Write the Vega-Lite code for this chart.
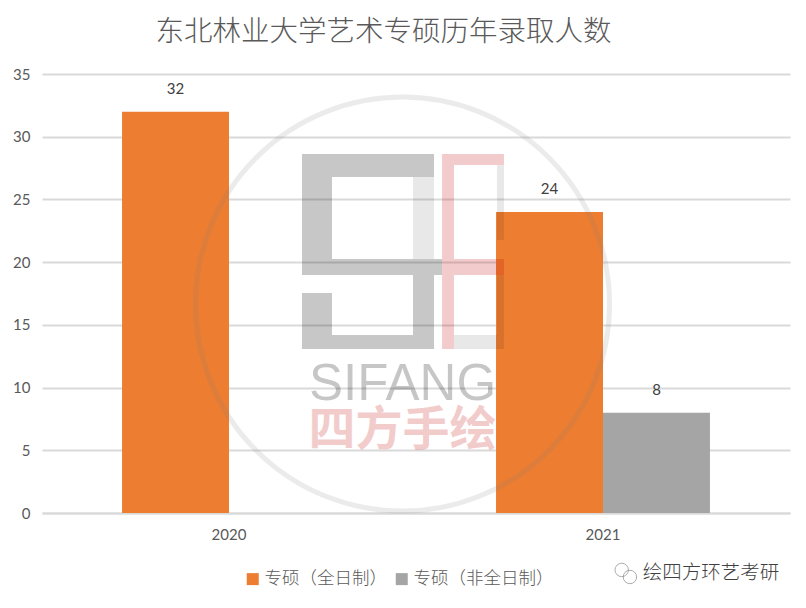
{
 "$schema":"https://vega.github.io/schema/vega-lite/v6.json",
 "width":748,"height":439,
 "autosize":{"type":"none"},
 "padding":{"left":42,"top":74,"right":16,"bottom":95},
 "background":"white",
 "title":{"text":"东北林业大学艺术专硕历年录取人数","anchor":"start","dx":143,"offset":21,"font":"Noto Sans CJK SC","fontSize":28.5,"fontWeight":300,"color":"#595959"},
 "config":{"view":{"stroke":null}},
 "datasets":{
  "bars":[
   {"year":"2020","type":"专硕（全日制）","count":32},
   {"year":"2021","type":"专硕（全日制）","count":24},
   {"year":"2021","type":"专硕（非全日制）","count":8}
  ],
  "logo":[
   {"part":"s","u":34.76,"u2":52.41,"v":28.62,"v2":26.79},
   {"part":"s","u":34.76,"u2":38.77,"v":26.79,"v2":20.25},
   {"part":"s","u":34.76,"u2":53.48,"v":20.25,"v2":18.97},
   {"part":"s","u":49.60,"u2":52.41,"v":18.97,"v2":14.19},
   {"part":"s","u":34.76,"u2":52.41,"v":14.19,"v2":13.07},
   {"part":"s","u":34.76,"u2":38.77,"v":17.54,"v2":14.19},
   {"part":"l","u":49.60,"u2":52.41,"v":26.79,"v2":20.25},
   {"part":"l","u":60.83,"u2":61.76,"v":27.74,"v2":21.77},
   {"part":"l","u":55.08,"u2":61.76,"v":14.19,"v2":13.07},
   {"part":"l","u":60.83,"u2":61.76,"v":18.97,"v2":14.19},
   {"part":"r","u":53.48,"u2":55.08,"v":28.62,"v2":13.07},
   {"part":"r","u":55.08,"u2":61.76,"v":28.62,"v2":27.74},
   {"part":"r","u":55.08,"u2":61.76,"v":20.25,"v2":18.97}
  ]
 },
 "layer":[
  {
   "data":{"name":"bars"},
   "mark":{"type":"bar"},
   "encoding":{
    "x":{"field":"year","type":"nominal","title":null,
     "scale":{"domain":["2020","2021"],"paddingInner":0.428,"paddingOuter":0.214},
     "axis":{"labelAngle":0,"labelFont":"Lato","labelFontSize":15,"labelColor":"#595959","labelPadding":14,"ticks":false,"domainColor":"#d9d9d9","domainWidth":2,"grid":false}},
    "xOffset":{"field":"type","type":"nominal","scale":{"domain":["专硕（全日制）","专硕（非全日制）"],"paddingInner":0,"paddingOuter":0}},
    "y":{"field":"count","type":"quantitative","title":null,
     "scale":{"domain":[0,35],"nice":false},
     "axis":{"values":[0,5,10,15,20,25,30,35],"labelFont":"Lato","labelFontSize":15,"labelColor":"#595959","labelPadding":12,"ticks":false,"domain":false,"grid":true,"gridColor":"#d9d9d9","gridWidth":2}},
    "color":{"field":"type","type":"nominal",
     "scale":{"domain":["专硕（全日制）","专硕（非全日制）"],"range":["#ed7d31","#a5a5a5"]},
     "legend":{"title":null,"orient":"none","legendX":202,"legendY":496,"direction":"horizontal","columns":2,"symbolType":"square","symbolSize":144,"symbolOpacity":1,"labelFont":"Noto Sans CJK SC","labelFontSize":17.5,"labelFontWeight":300,"labelColor":"#595959","labelLimit":200,"columnPadding":6,"labelOffset":3}}
   }
  },
  {
   "data":{"name":"bars"},
   "mark":{"type":"text","font":"Lato","fontSize":15,"color":"#404040","dy":-23,"baseline":"middle"},
   "encoding":{
    "x":{"field":"year","type":"nominal","axis":null,"scale":{"domain":["2020","2021"],"paddingInner":0.428,"paddingOuter":0.214}},
    "xOffset":{"field":"type","type":"nominal","scale":{"domain":["专硕（全日制）","专硕（非全日制）"],"paddingInner":0,"paddingOuter":0}},
    "y":{"field":"count","type":"quantitative","axis":null},
    "text":{"field":"count","type":"quantitative"}
   }
  },
  {
   "layer":[
    {
     "data":{"name":"logo"},
     "transform":[{"filter":"datum.part==='s'"}],
     "mark":{"type":"rect","color":"#000000","opacity":0.22},
     "encoding":{
      "x":{"field":"u","type":"quantitative","scale":{"domain":[0,100],"nice":false,"zero":false},"axis":null},
      "x2":{"field":"u2"},
      "y":{"field":"v","type":"quantitative","axis":null},
      "y2":{"field":"v2"}
     }
    },
    {
     "data":{"name":"logo"},
     "transform":[{"filter":"datum.part==='l'"}],
     "mark":{"type":"rect","color":"#000000","opacity":0.09},
     "encoding":{
      "x":{"field":"u","type":"quantitative","scale":{"domain":[0,100],"nice":false,"zero":false},"axis":null},
      "x2":{"field":"u2"},
      "y":{"field":"v","type":"quantitative","axis":null},
      "y2":{"field":"v2"}
     }
    },
    {
     "data":{"name":"logo"},
     "transform":[{"filter":"datum.part==='r'"}],
     "mark":{"type":"rect","color":"#c00000","opacity":0.2},
     "encoding":{
      "x":{"field":"u","type":"quantitative","scale":{"domain":[0,100],"nice":false,"zero":false},"axis":null},
      "x2":{"field":"u2"},
      "y":{"field":"v","type":"quantitative","axis":null},
      "y2":{"field":"v2"}
     }
    },
    {
     "data":{"values":[{"u":48.2,"v":16.66}]},
     "mark":{"type":"point","shape":"circle","filled":false,"size":171396,"stroke":"#7f7f7f","strokeWidth":5,"opacity":0.15},
     "encoding":{
      "x":{"field":"u","type":"quantitative","scale":{"domain":[0,100],"nice":false,"zero":false},"axis":null},
      "y":{"field":"v","type":"quantitative","axis":null}
     }
    },
    {
     "data":{"values":[{"u":48.2,"v":10.17,"label":"SIFANG"}]},
     "mark":{"type":"text","font":"Liberation Sans","fontSize":51,"color":"#000000","opacity":0.22,"baseline":"middle"},
     "encoding":{
      "x":{"field":"u","type":"quantitative","scale":{"domain":[0,100],"nice":false,"zero":false},"axis":null},
      "y":{"field":"v","type":"quantitative","axis":null},
      "text":{"field":"label"}
     }
    },
    {
     "data":{"values":[{"u":48.2,"v":6.54,"label":"四方手绘"}]},
     "mark":{"type":"text","font":"Noto Sans CJK SC","fontSize":47,"fontWeight":"bold","color":"#c00000","opacity":0.2,"baseline":"middle"},
     "encoding":{
      "x":{"field":"u","type":"quantitative","scale":{"domain":[0,100],"nice":false,"zero":false},"axis":null},
      "y":{"field":"v","type":"quantitative","axis":null},
      "text":{"field":"label"}
     }
    },
    {
     "data":{"values":[{"u":89.44,"v":-4.78,"label":"绘四方环艺考研"}]},
     "mark":{"type":"text","font":"Noto Sans CJK SC","fontSize":19.5,"fontWeight":300,"color":"#404040","baseline":"middle"},
     "encoding":{
      "x":{"field":"u","type":"quantitative","scale":{"domain":[0,100],"nice":false,"zero":false},"axis":null},
      "y":{"field":"v","type":"quantitative","axis":null},
      "text":{"field":"label"}
     }
    },
    {
     "data":{"values":[{"u":77.5,"v":-4.54},{"u":78.6,"v":-5.1}]},
     "mark":{"type":"point","shape":"circle","filled":false,"size":180,"stroke":"#8a8a8a","strokeWidth":1},
     "encoding":{
      "x":{"field":"u","type":"quantitative","scale":{"domain":[0,100],"nice":false,"zero":false},"axis":null},
      "y":{"field":"v","type":"quantitative","axis":null}
     }
    }
   ]
  }
 ],
 "resolve":{"scale":{"x":"independent"},"axis":{"x":"independent","y":"independent"}}
}
